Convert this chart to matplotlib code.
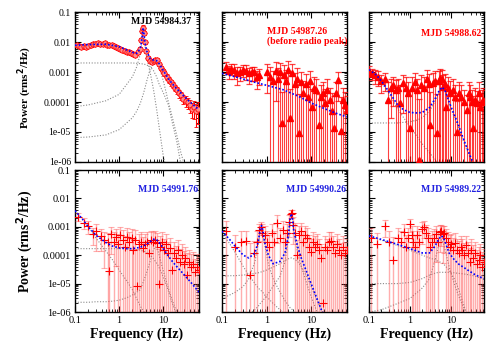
import numpy as np
import matplotlib
matplotlib.use("Agg")
import matplotlib.pyplot as plt
from matplotlib.ticker import NullFormatter

plt.rcParams['font.family'] = ['Liberation Serif', 'DejaVu Serif']

# ---------------- panel 1 : MJD 54984.37 ----------------
freq1 = [0.11, 0.125, 0.14, 0.16, 0.18, 0.2, 0.23, 0.26, 0.29, 0.33,
         0.37, 0.42, 0.47, 0.53, 0.6, 0.67, 0.75, 0.84, 0.94, 1.05,
         1.18, 1.32, 1.48, 1.66, 1.86, 2.08, 2.33, 2.6, 2.9, 3.15,
         3.35, 3.5, 3.65, 3.85, 4.1, 4.5, 5.0, 5.5, 6.0, 6.6,
         7.2, 7.9, 8.7, 9.6, 10.6, 11.8, 13.1, 14.6, 16.3, 18.2,
         20.3, 22.7, 25.4, 28.4, 31.8, 35.6, 39.9, 44.7, 50.0, 56.0, 62.0]
pow1 = [0.0078, 0.0075, 0.007, 0.0072, 0.0068, 0.0075, 0.008, 0.0085, 0.0088, 0.009,
        0.0085, 0.0088, 0.009, 0.0082, 0.0078, 0.008, 0.0072, 0.0068, 0.0065, 0.006,
        0.0055, 0.005, 0.0048, 0.0045, 0.0042, 0.004, 0.0038, 0.0045, 0.006, 0.012,
        0.024, 0.03, 0.02, 0.01, 0.005, 0.003, 0.0024, 0.0022, 0.0024, 0.0026,
        0.0025, 0.0018, 0.0014, 0.0011, 0.0009, 0.0007, 0.00055, 0.00045, 0.00038, 0.0003,
        0.00025, 0.0002, 0.00017, 0.00013, 0.00011, 0.0001, 8e-5, 6e-5, 7e-5, 5e-5, 6e-5]
rel1 = [0.15, 0.15, 0.15, 0.15, 0.15, 0.12, 0.12, 0.12, 0.12, 0.12,
        0.12, 0.12, 0.12, 0.12, 0.12, 0.12, 0.12, 0.12, 0.12, 0.12,
        0.12, 0.12, 0.12, 0.12, 0.12, 0.12, 0.12, 0.12, 0.12, 0.12,
        0.15, 0.2, 0.15, 0.12, 0.12, 0.12, 0.12, 0.12, 0.12, 0.12,
        0.15, 0.15, 0.15, 0.18, 0.18, 0.2, 0.2, 0.22, 0.25, 0.25,
        0.28, 0.3, 0.3, 0.35, 0.4, 0.4, 0.45, 0.5, 0.6, 0.7, 0.7]
m1 = [0.1, 0.2, 0.5, 1, 2, 2.5, 3, 3.2, 3.4, 3.5, 3.6, 3.8, 4.2, 5, 6, 7, 8, 10, 13,
      16, 20, 25, 30, 40, 50, 64]
fit1 = [7.8e-3, 8.2e-3, 8.4e-3, 7e-3, 4.5e-3, 4.2e-3, 6e-3, 1e-2, 2.2e-2, 3e-2, 2.2e-2,
        1e-2, 5e-3, 2.8e-3, 2.5e-3, 2.4e-3, 1.9e-3, 1.1e-3, 6e-4, 4e-4, 2.8e-4, 2e-4,
        1.5e-4, 1e-4, 7.5e-5, 5.5e-5]
compA1 = [2e-3, 2e-3, 2e-3, 2e-3, 2e-3, 1.95e-3, 1.9e-3, 1.9e-3, 1.85e-3, 1.85e-3, 1.85e-3,
          1.8e-3, 1.7e-3, 1.5e-3, 1.1e-3, 7e-4, 4e-4, 2e-4, 8e-5, 2e-5, 5e-6, 8e-7,
          1.5e-7, 4e-8, 2e-8, 1e-8]
compB1 = [7e-5, 8e-5, 1.1e-4, 1.8e-4, 7e-4, 1.5e-3, 4e-3, 8e-3, 2e-2, 2.8e-2, 2e-2,
          8e-3, 3e-3, 1e-3, 2.5e-4, 6e-5, 1.5e-5, 1.5e-6, 3e-7, 1e-7, 5e-8, 2e-8,
          1e-8, 5e-9, 3e-9, 1e-9]
compC1 = [6.5e-6, 6.8e-6, 8e-6, 1.2e-5, 3e-5, 5e-5, 9e-5, 1.2e-4, 1.6e-4, 1.8e-4, 2.1e-4,
          2.8e-4, 5e-4, 1.2e-3, 1.9e-3, 2e-3, 1.5e-3, 5e-4, 1e-4, 3e-5, 8e-6, 2e-6,
          8e-7, 2e-7, 5e-8, 1e-8]

# ---------------- panel 2 : MJD 54987.26 ----------------
freq2 = [0.12, 0.14, 0.16, 0.19, 0.22, 0.26, 0.3, 0.34, 0.4, 0.46,
         0.52, 0.6, 0.66, 1.05, 1.2, 1.4, 1.6, 1.8, 2.0, 2.2,
         2.5, 2.8, 3.1, 3.4, 3.8, 4.3, 4.8, 5.4, 6.0, 6.7,
         7.5, 8.4, 9.4, 10.5, 11.8, 13.2, 14.8, 16.6, 18.6, 20.8,
         23.3, 26.1, 29.2, 32.7, 36.6, 41.0, 45.9, 51.4, 57.5, 63.0]
pow2 = [1.5e-3, 1.1e-3, 1.3e-3, 1.2e-3, 9e-4, 1.0e-3, 1.2e-3, 1.1e-3, 9e-4, 1.0e-3,
        1.0e-3, 7e-4, 8e-4, 1.0e-3, 7e-4, 5e-4, 1.1e-3, 6e-4, 1.0e-3, 2e-5,
        8e-4, 5e-4, 1.2e-3, 3e-5, 9e-4, 4e-4, 6e-4, 9e-6, 4.5e-4, 2e-4,
        4e-4, 1.5e-4, 5e-4, 7e-5, 3e-4, 2.5e-4, 1.7e-5, 1.5e-4, 2e-4, 9e-5,
        2.6e-4, 1.2e-4, 5e-5, 1.4e-5, 2e-4, 5.5e-4, 1.1e-5, 1.2e-4, 8e-5, 5.5e-5]
rel2 = [0.4, 0.45, 0.4, 0.5, 0.6, 0.5, 0.45, 0.5, 0.55, 0.5,
        0.5, 0.6, 0.55, 0.8, 1.1, 1.2, 0.9, 1.2, 1.0, 10,
        1.1, 1.3, 1.0, 8, 1.1, 1.3, 1.2, 20, 1.2, 1.5,
        1.2, 1.6, 1.1, 3, 1.3, 1.4, 10, 1.5, 1.3, 2,
        1.2, 1.5, 3, 10, 1.4, 0.8, 12, 1.5, 1.6, 1.8]
m2 = [0.1, 0.25, 0.5, 1, 2.3, 5, 10.5, 20, 40, 64]
fit2 = [9e-4, 6.3e-4, 4.7e-4, 3.6e-4, 2.6e-4, 1.6e-4, 9e-5, 6e-5, 4e-5, 3.2e-5]

# ---------------- panel 3 : MJD 54988.62 ----------------
freq3 = [0.1, 0.12, 0.14, 0.17, 0.2, 0.25, 0.29, 0.34, 0.39, 0.46,
         0.52, 0.57, 0.67, 0.8, 0.9, 1.0, 1.15, 1.3, 1.5, 1.7,
         1.9, 2.2, 2.6, 2.85, 3.1, 3.6, 4.0, 4.5, 5.0, 5.5,
         6.0, 6.4, 7.0, 7.6, 8.4, 9.5, 11.0, 12.5, 14.0, 16.0,
         18.0, 21.0, 24.0, 27.0, 29.0, 32.0, 35.0, 39.0, 43.0, 47.0,
         50.0, 56.0, 62.0]
pow3 = [1.1e-3, 9e-4, 8e-4, 7e-4, 5e-4, 6e-4, 1.2e-4, 3e-4, 3.7e-4, 2.5e-4,
        3e-4, 9e-5, 4.3e-4, 3e-4, 2e-4, 1.4e-5, 3e-4, 4.6e-4, 2.5e-4, 1.2e-6,
        3.7e-4, 3e-4, 6e-4, 4e-4, 1.7e-5, 4.3e-4, 5e-4, 9e-6, 5e-4, 6.5e-4,
        6e-4, 3.2e-4, 4e-4, 6.8e-5, 3e-4, 2e-4, 2.6e-4, 1.5e-4, 1e-5, 2e-4,
        1.5e-4, 1e-4, 5.5e-5, 2e-4, 1.5e-4, 1e-4, 1.4e-5, 1.2e-4, 9e-5, 2e-4,
        6.8e-5, 1e-4, 1.2e-4]
rel3 = [0.4, 0.4, 0.5, 0.5, 0.6, 0.6, 3, 0.9, 0.8, 1.1,
        1.0, 3, 0.9, 1.2, 1.3, 15, 1.2, 1.0, 1.3, 100,
        1.1, 1.3, 1.0, 1.2, 12, 1.2, 1.1, 20, 1.2, 1.0,
        1.0, 1.4, 1.2, 3, 1.3, 1.5, 1.2, 1.5, 10, 1.4,
        1.5, 1.6, 2, 1.3, 1.4, 1.6, 10, 1.5, 1.6, 1.3,
        1.8, 1.6, 1.5]
m3 = [0.1, 0.15, 0.2, 0.3, 0.5, 0.7, 1, 1.5, 2, 3, 4, 5, 6, 7, 8, 10, 15, 20, 30, 40, 64]
fit3 = [1.2e-3, 8e-4, 5e-4, 2.3e-4, 8e-5, 5.5e-5, 4.5e-5, 4.3e-5, 4.5e-5, 6.5e-5, 1.2e-4,
        2.2e-4, 3.1e-4, 2.6e-4, 1.6e-4, 7e-5, 1.8e-5, 6e-6, 1.5e-6, 6e-7, 1.5e-7]
compA3 = [1.2e-3, 7.5e-4, 4.5e-4, 2e-4, 6e-5, 3e-5, 1.5e-5, 7e-6, 4e-6, 2e-6, 1.3e-6,
          9e-7, 7e-7, 5e-7, 4e-7, 3e-7, 1.5e-7, 1e-7, 5e-8, 3e-8, 1e-8]
compB3 = [2e-5, 2e-5, 2e-5, 2e-5, 2e-5, 2.1e-5, 2.2e-5, 2.5e-5, 3e-5, 5e-5, 1e-4,
          2e-4, 3e-4, 2.5e-4, 1.5e-4, 6e-5, 1.5e-5, 5e-6, 1.3e-6, 5e-7, 1.5e-7]

# ---------------- panel 4 : MJD 54991.76 ----------------
freq4 = [0.12, 0.16, 0.2, 0.25, 0.3, 0.38, 0.45, 0.55, 0.6, 0.66,
         0.75, 0.84, 0.95, 1.05, 1.2, 1.35, 1.5, 1.7, 1.9, 2.1,
         2.3, 2.5, 2.8, 3.1, 3.4, 3.8, 4.2, 4.7, 5.2, 5.8,
         6.4, 7.0, 7.8, 8.6, 9.5, 10.5, 11.6, 12.8, 14.2, 15.7,
         17.4, 19.2, 21.2, 23.4, 25.9, 28.6, 31.6, 34.9, 38.6, 42.6,
         47.1, 52.0, 57.5, 63.0]
pow4 = [2.3e-3, 1.4e-3, 1.1e-3, 5.6e-4, 7e-4, 4.8e-4, 3.5e-4, 3e-4, 2.7e-5, 5.6e-4,
        3e-4, 4.3e-4, 2.5e-4, 5e-4, 3.5e-4, 2e-4, 4.5e-4, 3e-4, 4e-4, 1.5e-4,
        3.5e-4, 8e-6, 2.5e-4, 3e-4, 1.8e-4, 2.5e-4, 3e-4, 1.2e-4, 3.5e-4, 3e-4,
        3.5e-4, 2.8e-4, 1e-5, 2e-4, 3e-4, 1.5e-4, 2.5e-4, 1.2e-4, 1.8e-4, 3e-5,
        1.2e-4, 8e-5, 1.5e-4, 6e-5, 1e-4, 5e-5, 8e-5, 2e-5, 6e-5, 4e-5,
        5e-5, 2.5e-5, 4e-5, 3e-5]
rel4 = [0.3, 0.4, 0.5, 0.6, 0.8, 0.7, 0.9, 1.0, 10, 0.8,
        1.1, 0.9, 1.2, 1.0, 1.2, 1.4, 1.0, 1.2, 1.1, 1.5,
        1.2, 20, 1.3, 1.2, 1.4, 1.2, 1.1, 1.6, 1.1, 1.2,
        1.1, 1.2, 15, 1.3, 1.1, 1.4, 1.2, 1.5, 1.3, 5,
        1.4, 1.6, 1.3, 1.7, 1.4, 1.7, 1.5, 5, 1.6, 1.8,
        1.6, 2.0, 1.7, 1.8]
m4 = [0.1, 0.15, 0.2, 0.3, 0.5, 0.7, 1, 1.5, 2, 3, 4, 5, 6, 6.6, 7.5, 9, 12, 16, 20, 30, 40, 64]
fit4 = [3.7e-3, 1.8e-3, 1e-3, 5e-4, 2.8e-4, 2.1e-4, 1.8e-4, 1.7e-4, 1.7e-4, 1.9e-4, 2.3e-4,
        3e-4, 3.6e-4, 3.7e-4, 3.2e-4, 2.2e-4, 1.1e-4, 6e-5, 4e-5, 2e-5, 1.2e-5, 5e-6]
compA4 = [3.7e-3, 1.8e-3, 1e-3, 4e-4, 1.4e-4, 7e-5, 3e-5, 1.2e-5, 6e-6, 1.6e-6, 8e-7,
          5e-7, 3e-7, 2.5e-7, 2e-7, 1.5e-7, 1e-7, 5e-8, 3e-8, 1.5e-8, 1e-8, 5e-9]
compB4 = [1.7e-4, 1.7e-4, 1.7e-4, 1.7e-4, 1.7e-4, 1.7e-4, 1.7e-4, 1.7e-4, 1.65e-4, 1.5e-4,
          1.3e-4, 1e-4, 7.5e-5, 6e-5, 4.5e-5, 2.5e-5, 8e-6, 2e-6, 8e-7, 2e-7, 8e-8, 2e-8]
compC4 = [2.2e-6, 2.2e-6, 2.2e-6, 2.3e-6, 2.3e-6, 2.4e-6, 2.6e-6, 3.2e-6, 4e-6, 6e-6, 2e-5,
          6e-5, 1.6e-4, 2e-4, 1.5e-4, 5e-5, 1e-5, 2.5e-6, 1e-6, 3e-7, 1e-7, 3e-8]

# ---------------- panel 5 : MJD 54990.26 ----------------
freq5 = [0.12, 0.2, 0.27, 0.34, 0.42, 0.52, 0.6, 0.68, 0.74, 0.8,
         0.9, 1.0, 1.15, 1.3, 1.5, 1.76, 2.0, 2.3, 2.6, 2.9,
         3.2, 3.45, 3.7, 3.95, 4.3, 4.8, 5.3, 5.9, 6.6, 7.4,
         8.2, 9.1, 10.1, 11.2, 12.4, 13.8, 15.3, 17.0, 18.5, 20.5,
         22.7, 25.2, 28.0, 31.0, 34.4, 38.2, 42.4, 47.0, 52.2, 57.9, 63.0]
pow5 = [7e-4, 2e-4, 3e-4, 3.2e-4, 2e-5, 1.2e-4, 3e-4, 8e-4, 1e-3, 6e-4,
        5e-4, 3e-4, 2e-4, 6e-4, 3e-4, 1.4e-3, 4e-4, 8e-4, 3e-4, 6e-4,
        1.5e-3, 2.9e-3, 3e-3, 1.2e-3, 6e-4, 1e-4, 5e-4, 7e-4, 3e-4, 5e-4,
        4e-4, 2e-4, 1.3e-4, 3e-4, 2e-4, 2.5e-4, 1.5e-4, 8e-5, 2e-6, 2e-4,
        1.5e-4, 3e-4, 3.2e-4, 2e-4, 1.2e-4, 2.5e-4, 1.5e-4, 1e-4, 2e-4, 1.2e-4, 1.5e-4]
rel5 = [1.2, 1.5, 1.3, 1.2, 12, 1.6, 1.3, 0.6, 0.5, 1.1,
        1.2, 1.4, 1.6, 1.1, 1.3, 0.8, 1.2, 1.0, 1.5, 1.1,
        0.7, 0.3, 0.3, 0.8, 1.2, 2.5, 1.1, 1.0, 1.3, 1.1,
        1.2, 1.5, 1.8, 1.2, 1.4, 1.3, 1.5, 2, 100, 1.3,
        1.4, 1.1, 1.1, 1.3, 1.6, 1.2, 1.4, 1.6, 1.3, 1.5, 1.4]
m5 = [0.1, 0.15, 0.2, 0.3, 0.4, 0.55, 0.65, 0.72, 0.77, 0.82, 0.9, 1.1, 1.4, 2, 2.6,
      3.1, 3.4, 3.6, 3.8, 4.1, 5, 6, 8, 10, 13, 17, 25, 40, 64]
fit5 = [7e-4, 3.5e-4, 2e-4, 1e-4, 8e-5, 1.2e-4, 3e-4, 8e-4, 1.1e-3, 8e-4, 3e-4, 1e-4, 5e-5,
        6e-5, 1.2e-4, 5e-4, 2e-3, 2.9e-3, 2e-3, 7e-4, 2e-4, 8e-5, 2.5e-5, 1e-5, 3.5e-6,
        1.2e-6, 4e-7, 1e-7, 3e-8]
compA5 = [6e-4, 2.5e-4, 1.2e-4, 4e-5, 2e-5, 1e-5, 7e-6, 6e-6, 5.5e-6, 5e-6, 4e-6, 3e-6,
          2e-6, 1.2e-6, 8e-7, 6e-7, 5e-7, 4.5e-7, 4e-7, 3.5e-7, 2.5e-7, 2e-7, 1.2e-7,
          8e-8, 5e-8, 3e-8, 1.5e-8, 6e-9, 3e-9]
compB5 = [1.8e-5, 1.9e-5, 1.9e-5, 2e-5, 2.1e-5, 2.3e-5, 2.4e-5, 2.5e-5, 2.6e-5, 2.7e-5,
          2.8e-5, 3.2e-5, 3.8e-5, 5e-5, 6.5e-5, 7.5e-5, 8e-5, 8e-5, 7.8e-5, 7.5e-5, 6e-5,
          4e-5, 1.8e-5, 8e-6, 3e-6, 1.2e-6, 4e-7, 1e-7, 3e-8]
compC5 = [3e-6, 4e-6, 5e-6, 8e-6, 1.5e-5, 6e-5, 2.5e-4, 7e-4, 1.05e-3, 7e-4, 2.5e-4, 5e-5,
          1.5e-5, 5e-6, 2.5e-6, 1.7e-6, 1.4e-6, 1.3e-6, 1.2e-6, 1e-6, 7e-7, 5e-7, 3e-7,
          2e-7, 1e-7, 6e-8, 3e-8, 1e-8, 5e-9]
compD5 = [1e-7, 2e-7, 3e-7, 5e-7, 8e-7, 1.2e-6, 1.6e-6, 2e-6, 2.2e-6, 2.5e-6, 3e-6, 4.5e-6,
          8e-6, 1.8e-5, 6e-5, 4e-4, 1.9e-3, 2.8e-3, 1.9e-3, 6e-4, 1.2e-4, 4e-5, 1e-5,
          3.5e-6, 1.2e-6, 4e-7, 1e-7, 3e-8, 1e-8]

# ---------------- panel 6 : MJD 54989.22 ----------------
freq6 = [0.11, 0.16, 0.24, 0.3, 0.39, 0.5, 0.6, 0.7, 0.8, 0.9,
         1.0, 1.1, 1.2, 1.35, 1.5, 1.7, 1.95, 2.2, 2.5, 2.8,
         3.1, 3.5, 3.9, 4.4, 4.9, 5.4, 5.8, 6.3, 6.9, 7.6,
         8.4, 9.3, 10.3, 11.4, 12.6, 14.0, 15.5, 17.2, 19.0, 21.0,
         23.3, 25.8, 28.5, 31.5, 34.9, 38.6, 42.7, 47.2, 52.2, 57.8, 63.0]
pow6 = [4e-4, 2.5e-4, 1.1e-3, 3e-4, 7e-5, 4e-4, 3e-4, 6.5e-4, 2e-4, 4e-4,
        1.3e-3, 5e-4, 3e-4, 2e-4, 5e-4, 3e-4, 8.5e-4, 1e-3, 6e-4, 4e-4,
        2e-4, 3e-4, 4e-4, 5.6e-4, 3e-4, 6.5e-4, 7e-4, 5.5e-4, 6e-4, 4e-4,
        3e-4, 2e-4, 2.5e-4, 1.5e-4, 2.8e-4, 1.5e-4, 1.2e-4, 2e-4, 1.5e-4, 1e-4,
        2.2e-4, 1.2e-4, 6e-5, 1.5e-4, 8e-5, 1.2e-4, 5e-5, 7e-5, 1e-4, 4e-5, 6e-5]
rel6 = [1.3, 1.5, 0.6, 1.4, 5, 1.2, 1.4, 1.0, 1.6, 1.2,
        0.5, 1.1, 1.4, 1.6, 1.1, 1.3, 0.7, 0.6, 1.0, 1.2,
        1.5, 1.3, 1.1, 0.9, 1.3, 0.8, 0.7, 0.9, 0.8, 1.1,
        1.2, 1.5, 1.3, 1.6, 1.2, 1.5, 1.6, 1.3, 1.4, 1.7,
        1.2, 1.5, 2, 1.4, 1.8, 1.5, 2, 1.8, 1.5, 2.2, 1.8]
m6 = [0.1, 0.2, 0.3, 0.5, 1, 2, 3, 4, 5, 5.8, 6.5, 7.5, 9, 12, 15, 20, 30, 40, 64]
fit6 = [4.8e-4, 3.6e-4, 3e-4, 2.4e-4, 1.7e-4, 1.2e-4, 1.2e-4, 2e-4, 3.6e-4, 4.8e-4, 4.2e-4,
        2.5e-4, 1.2e-4, 7e-5, 5e-5, 3.8e-5, 2.6e-5, 2e-5, 1.5e-5]
compA6 = [4.6e-4, 3.4e-4, 2.8e-4, 2.2e-4, 1.5e-4, 1e-4, 8e-5, 7e-5, 6e-5, 5.5e-5, 5e-5,
          4e-5, 3e-5, 1.5e-5, 7e-6, 2e-6, 3e-7, 6e-8, 1e-8]
compB6 = [1e-5, 1e-5, 1e-5, 1e-5, 1.1e-5, 1.5e-5, 2e-5, 2.3e-5, 2.5e-5, 2.5e-5, 2.5e-5,
          2.5e-5, 2.5e-5, 2.4e-5, 2.3e-5, 2.2e-5, 2e-5, 1.8e-5, 1.4e-5]
compC6 = [1e-6, 1.2e-6, 1.5e-6, 2e-6, 3e-6, 7e-6, 1.5e-5, 6e-5, 2.2e-4, 3.5e-4, 2.8e-4,
          1.2e-4, 4e-5, 1e-5, 4e-6, 1.5e-6, 5e-7, 2e-7, 5e-8]

ytick_vals = [1e-6, 1e-5, 1e-4, 1e-3, 1e-2, 1e-1]
ytick_lab = ['1e-06', '1e-05', '0.0001', '0.001', '0.01', '0.1']
xtick_vals = [0.1, 1, 10]
xtick_lab = ['0.1', '1', '10']

W, H = 491, 343
fig = plt.figure(figsize=(W / 100, H / 100), dpi=100)


def make_ax(x0, x1, y0, y1):
    # pixel box -> figure fraction
    return fig.add_axes([x0 / W, 1 - y1 / H, (x1 - x0) / W, (y1 - y0) / H])


cols = [(75, 199), (222, 347), (369, 484)]
rows = [(12, 162), (170, 312)]
axes = [[make_ax(c[0], c[1], r[0], r[1]) for c in cols] for r in rows]

grey = '#8a8a8a'


def draw_model(ax, mf, fit, comps):
    for c in comps:
        ax.plot(mf, c, ls=(0, (1, 1.5)), color=grey, lw=0.8, zorder=2)
    ax.plot(mf, fit, ls=(0, (1, 1.2)), color='blue', lw=1.2, zorder=4)


def err_lo_hi(p, r):
    p = np.array(p)
    r = np.array(r)
    lo = np.minimum(p * r, p - 1e-9)
    hi = p * r
    return [lo, hi]


# top row
ax = axes[0][0]
draw_model(ax, m1, fit1, [compA1, compB1, compC1])
ax.errorbar(freq1, pow1, yerr=err_lo_hi(pow1, rel1), fmt='o', ms=3.8,
            mfc=(1, 0.55, 0.55), mec='red', mew=0.6, color='red',
            ecolor='red', elinewidth=0.8, capsize=1.5, zorder=3)
ax.plot(freq1, pow1, '+', color='red', ms=4, mew=0.7, zorder=3)

# panels 2 and 3: triangles, bars a bit see-through so they don't merge
for ax, f, p, r in [(axes[0][1], freq2, pow2, rel2), (axes[0][2], freq3, pow3, rel3)]:
    ax.errorbar(f, p, yerr=err_lo_hi(p, r), fmt='^', ms=4, color='red',
                ecolor=(1, 0, 0, 0.75), elinewidth=0.8, capsize=2.2,
                capthick=0.9, zorder=3)
draw_model(axes[0][1], m2, fit2, [])
draw_model(axes[0][2], m3, fit3, [compA3, compB3])

# bottom row
bottom = [(freq4, pow4, rel4, m4, fit4, [compA4, compB4, compC4]),
          (freq5, pow5, rel5, m5, fit5, [compA5, compB5, compC5, compD5]),
          (freq6, pow6, rel6, m6, fit6, [compA6, compB6, compC6])]
for ax, (f, p, r, mf, fit, comps) in zip(axes[1], bottom):
    draw_model(ax, mf, fit, comps)
    ax.errorbar(f, p, yerr=err_lo_hi(p, r), fmt='+', ms=6, mew=0.8,
                color='red', ecolor=(1, 0.3, 0.3, 0.45), elinewidth=1.0,
                capsize=2.5, capthick=0.8, zorder=3)

# titles
axes[0][0].text(0.94, 0.935, 'MJD 54984.37', transform=axes[0][0].transAxes,
                ha='right', va='center', fontsize=7, fontweight='bold', color='black')
axes[0][1].text(0.36, 0.835, 'MJD 54987.26\n(before radio peak)', transform=axes[0][1].transAxes,
                ha='left', va='center', fontsize=7, fontweight='bold', color='red',
                linespacing=1.0)
axes[0][2].text(0.975, 0.86, 'MJD 54988.62', transform=axes[0][2].transAxes,
                ha='right', va='center', fontsize=7, fontweight='bold', color='red')
for ax, t in zip(axes[1], ['MJD 54991.76', 'MJD 54990.26', 'MJD 54989.22']):
    ax.text(0.995 if t != 'MJD 54989.22' else 0.975, 0.86, t, transform=ax.transAxes,
            ha='right', va='center', fontsize=7, fontweight='bold', color='#2020e0')

for i in range(2):
    for j in range(3):
        ax = axes[i][j]
        ax.set_xscale('log')
        ax.set_yscale('log')
        ax.set_xlim(0.1, 64)
        ax.set_ylim(1e-6, 0.1)
        ax.set_yticks(ytick_vals)
        ax.set_xticks(xtick_vals)
        ax.yaxis.set_minor_formatter(NullFormatter())
        ax.xaxis.set_minor_formatter(NullFormatter())
        if j == 0:
            ax.set_yticklabels(ytick_lab)
        else:
            ax.set_yticklabels([])
        if i == 1:
            ax.set_xticklabels(xtick_lab)
        else:
            ax.set_xticklabels([])
        # top row of the original is drawn a bit smaller
        lsize = 7 if i == 0 else 7.5
        ax.tick_params(which='both', direction='in', top=True, right=True,
                       labelsize=lsize, pad=3)
        ax.tick_params(which='major', length=4, width=0.8)
        ax.tick_params(which='minor', length=2, width=0.6)
        for s in ax.spines.values():
            s.set_linewidth(1.0)
        if i == 1:
            ax.set_xlabel('Frequency (Hz)', fontsize=10, fontweight='bold', labelpad=2)

for r, fs in zip(rows, [8, 10]):
    fig.text(25 / W, 1 - (r[0] + r[1]) / 2 / H, 'Power (rms$^\\mathbf{2}$/Hz)',
             rotation=90, ha='center', va='center', fontsize=fs, fontweight='bold')

fig.savefig('out.png', dpi=100)
